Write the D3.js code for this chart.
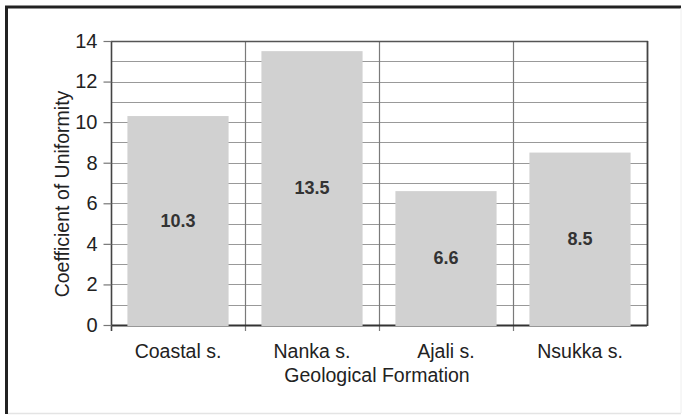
<!DOCTYPE html>
<html>
<head>
<meta charset="utf-8">
<script src="https://cdn.jsdelivr.net/npm/d3@7"></script>
<style>
  html, body { margin: 0; padding: 0; background: #fff; }
  svg { display: block; font-family: "Liberation Sans", Arial, sans-serif; }
</style>
</head>
<body>
<svg id="chart" width="686" height="417"></svg>
<script>
// Coefficient of uniformity by geological formation
const formations = ["Coastal s.", "Nanka s.", "Ajali s.", "Nsukka s."];
const uniformity = [10.3, 13.5, 6.6, 8.5];
const yTickValues = [0, 2, 4, 6, 8, 10, 12, 14];

const svg = d3.select("#chart");
const W = 686, H = 417;
const m = { left: 111, right: 647, top: 41, bottom: 325 };

// outer frame
svg.append("rect").attr("x", 0).attr("y", 0).attr("width", W).attr("height", H).attr("fill", "#fff");
svg.append("line").attr("x1", 6.5).attr("x2", 6.5).attr("y1", 6).attr("y2", 414)
  .attr("stroke", "#222").attr("stroke-width", 3);
svg.append("line").attr("x1", 5).attr("x2", 681).attr("y1", 7).attr("y2", 7)
  .attr("stroke", "#222").attr("stroke-width", 3);
svg.append("line").attr("x1", 8).attr("x2", 681).attr("y1", 413.5).attr("y2", 413.5)
  .attr("stroke", "#e4e4e4").attr("stroke-width", 1.5);
svg.append("line").attr("x1", 681).attr("x2", 681).attr("y1", 8).attr("y2", 413)
  .attr("stroke", "#eeeeee").attr("stroke-width", 1);

const x = d3.scaleBand().domain(formations).range([m.left, m.right]).paddingInner(0).paddingOuter(0);
const y = d3.scaleLinear().domain([0, 14]).range([m.bottom, m.top]);

const g = svg.append("g");

// horizontal grid every unit
const gridVals = d3.range(0, 15, 1);
g.selectAll("line.hgrid").data(gridVals).join("line")
  .attr("class", "hgrid")
  .attr("x1", m.left).attr("x2", m.right)
  .attr("y1", d => Math.round(y(d)) + 0.5).attr("y2", d => Math.round(y(d)) + 0.5)
  .attr("stroke", "#999").attr("stroke-width", 1.2);

// category separators (extend slightly below the baseline)
const seps = formations.slice(1).map(f => x(f));
g.selectAll("line.vgrid").data(seps).join("line")
  .attr("class", "vgrid")
  .attr("x1", d => Math.round(d) + 0.5).attr("x2", d => Math.round(d) + 0.5)
  .attr("y1", m.top).attr("y2", m.bottom + 6)
  .attr("stroke", "#7a7a7a").attr("stroke-width", 1.2);

// baseline
g.append("line").attr("x1", m.left).attr("x2", m.right)
  .attr("y1", m.bottom + 0.5).attr("y2", m.bottom + 0.5)
  .attr("stroke", "#333").attr("stroke-width", 2);

// top edge and right edge
g.append("line").attr("x1", m.left).attr("x2", m.right + 1)
  .attr("y1", m.top + 0.5).attr("y2", m.top + 0.5)
  .attr("stroke", "#555").attr("stroke-width", 1.6);
g.append("line").attr("x1", m.right + 0.5).attr("x2", m.right + 0.5)
  .attr("y1", m.top).attr("y2", m.bottom + 1)
  .attr("stroke", "#444").attr("stroke-width", 1.8);

// bars
const barW = x.bandwidth() * 0.755;
g.selectAll("rect.bar").data(uniformity).join("rect")
  .attr("class", "bar")
  .attr("x", (d, i) => x(formations[i]) + (x.bandwidth() - barW) / 2)
  .attr("width", barW)
  .attr("y", d => y(d))
  .attr("height", d => y(0) - y(d) + 1)
  .attr("fill", "#d1d1d1");

// value labels at mid-height
g.selectAll("text.val").data(uniformity).join("text")
  .attr("class", "val")
  .attr("x", (d, i) => x(formations[i]) + x.bandwidth() / 2)
  .attr("y", d => y(d / 2))
  .attr("dy", "0.35em")
  .attr("text-anchor", "middle")
  .attr("font-size", 18).attr("font-weight", "bold").attr("fill", "#333")
  .text(d => d.toFixed(1));

// left axis
const yAxis = d3.axisLeft(y).tickValues(yTickValues).tickSize(8).tickPadding(6).tickFormat(d3.format("d"));
const ya = svg.append("g").attr("transform", `translate(${m.left + 0.5},0)`).call(yAxis);
ya.select(".domain").attr("stroke", "#444").attr("stroke-width", 1.6)
  .attr("d", `M0,${m.top}V${m.bottom + 6}`);
ya.selectAll(".tick line").attr("stroke", "#777").attr("stroke-width", 1.2);
ya.selectAll(".tick text").attr("font-size", 20).attr("fill", "#222")
  .attr("font-family", "Liberation Sans, Arial, sans-serif");

// category labels
const xAxis = d3.axisBottom(x).tickSize(0).tickPadding(19);
const xa = svg.append("g").attr("transform", `translate(0,${m.bottom})`).call(xAxis);
xa.select(".domain").remove();
xa.selectAll(".tick text").attr("font-size", 19.5).attr("fill", "#222")
  .attr("font-family", "Liberation Sans, Arial, sans-serif");

// axis titles
svg.append("text")
  .attr("x", (m.left + m.right) / 2 - 2).attr("y", 382)
  .attr("text-anchor", "middle").attr("font-size", 19.5).attr("fill", "#222")
  .text("Geological Formation");
svg.append("text")
  .attr("transform", `translate(69,194) rotate(-90)`)
  .attr("text-anchor", "middle").attr("font-size", 19.5).attr("fill", "#222")
  .text("Coefficient of Uniformity");
</script>
</body>
</html>
